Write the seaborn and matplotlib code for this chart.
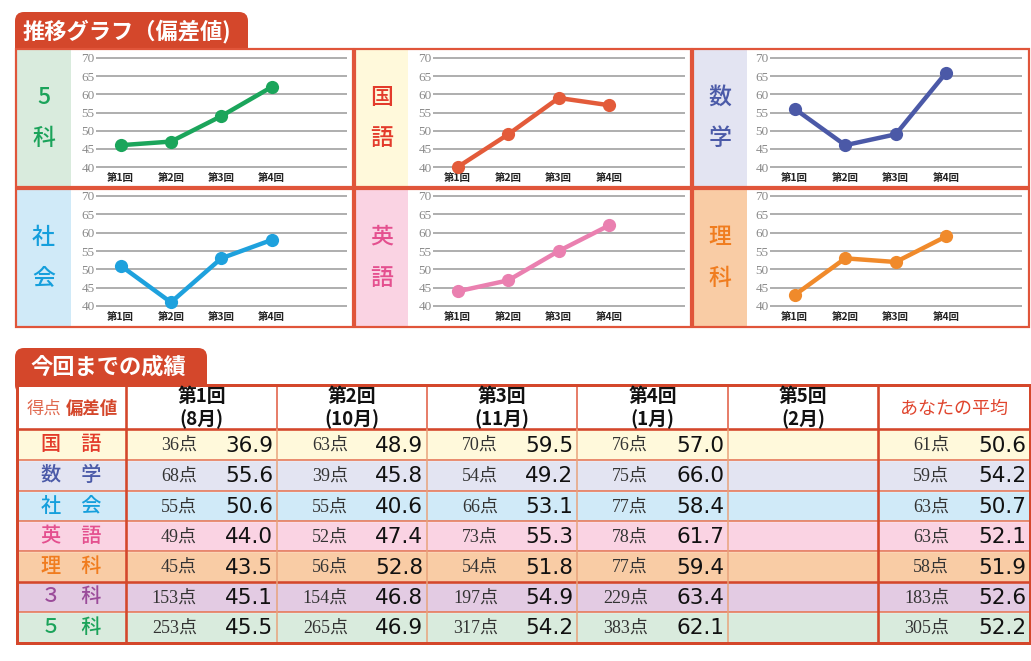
import numpy as np
import pandas as pd
import matplotlib
matplotlib.use('Agg')
import matplotlib.pyplot as plt
import seaborn as sns
from matplotlib.patches import Rectangle, FancyBboxPatch

sns.set_theme(style='white')
plt.rcParams['font.family'] = ['Noto Sans CJK JP', 'DejaVu Sans']

# ---- data ----
rounds = ['第1回', '第2回', '第3回', '第4回']

graph_subjects = ['5科', '国語', '数学', '社会', '英語', '理科']
g_5ka = [46, 47, 54, 62]
g_kokugo = [40, 49, 59, 57]
g_sugaku = [56, 46, 49, 66]
g_shakai = [51, 41, 53, 58]
g_eigo = [44, 47, 55, 62]
g_rika = [43, 53, 52, 59]
graph_values = [g_5ka, g_kokugo, g_sugaku, g_shakai, g_eigo, g_rika]

table_subjects = ['国　語', '数　学', '社　会', '英　語', '理　科', '３　科', '５　科']
col_heads = [('第1回', '(8月)'), ('第2回', '(10月)'), ('第3回', '(11月)'),
             ('第4回', '(1月)'), ('第5回', '(2月)')]
scores_r1 = [36, 68, 55, 49, 45, 153, 253]
dev_r1 = [36.9, 55.6, 50.6, 44.0, 43.5, 45.1, 45.5]
scores_r2 = [63, 39, 55, 52, 56, 154, 265]
dev_r2 = [48.9, 45.8, 40.6, 47.4, 52.8, 46.8, 46.9]
scores_r3 = [70, 54, 66, 73, 54, 197, 317]
dev_r3 = [59.5, 49.2, 53.1, 55.3, 51.8, 54.9, 54.2]
scores_r4 = [76, 75, 77, 78, 77, 229, 383]
dev_r4 = [57.0, 66.0, 58.4, 61.7, 59.4, 63.4, 62.1]
scores_avg = [61, 59, 63, 63, 58, 183, 305]
dev_avg = [50.6, 54.2, 50.7, 52.1, 51.9, 52.6, 52.2]

# ---- colours ----
subject_text = {'5科': '#1ba35a', '国語': '#e33b2b', '数学': '#4b5aa8',
                '社会': '#159fdc', '英語': '#e4508f', '理科': '#f07c1e',
                '3科': '#9b4c9a'}
subject_bg = {'5科': '#d9ebdd', '国語': '#fff9db', '数学': '#e3e4f2',
              '社会': '#d0eaf8', '英語': '#fad3e3', '理科': '#f9cca5',
              '3科': '#e3cbe3'}
line_col = {'5科': '#1ba55b', '国語': '#e35b3a', '数学': '#4b59a7',
            '社会': '#1ea1dd', '英語': '#ea80b0', '理科': '#f08a2b'}
row_keys = ['国語', '数学', '社会', '英語', '理科', '3科', '5科']
RED = '#d4472b'
BORDER = '#e0553a'
THIN = '#e8a27a'

W, H = 1031, 661
PX = 72 / 100  # one pixel in points

fig = plt.figure(figsize=(W / 100, H / 100), dpi=100)
bg = fig.add_axes([0, 0, 1, 1])
bg.set_xlim(0, W)
bg.set_ylim(H, 0)
bg.axis('off')


def box(x0, y0, x1, y1):
    return [x0 / W, 1 - y1 / H, (x1 - x0) / W, (y1 - y0) / H]


# ---- graph panel ----
bg.add_patch(FancyBboxPatch((15, 12), 233, 46, boxstyle='round,pad=0,rounding_size=9',
                            fc=RED, ec='none', zorder=1))
bg.text(23, 31, '推移グラフ（偏差値)', color='white', fontsize=16, weight='bold',
        va='center', ha='left', zorder=5)

cell_x = [(16, 353), (355, 691), (693, 1029)]
strip_r = [71, 408, 747]
grid_l = [96, 433, 770]
grid_r = [347, 685, 1022]
cell_y = [(49, 187), (189, 327)]
y70 = [58, 196]
y40 = [167, 306]

for i, subj in enumerate(graph_subjects):
    r, c = divmod(i, 3)
    x0, x1 = cell_x[c]
    ya, yb = cell_y[r]
    bg.add_patch(Rectangle((x0, ya), x1 - x0, yb - ya, fc='white', ec='none', zorder=2))
    bg.add_patch(Rectangle((x0, ya), strip_r[c] - x0, yb - ya, fc=subject_bg[subj],
                           ec='none', zorder=2))
    bg.add_patch(Rectangle((x0, ya), x1 - x0, yb - ya, fc='none', ec=BORDER,
                           lw=2.2 * PX, zorder=3))
    cx = (x0 + strip_r[c]) / 2
    cy = (ya + yb) / 2
    for k, ch in enumerate(subj):
        bg.text(cx, cy + (k - 0.5) * 41, ch, color=subject_text[subj], fontsize=16.5,
                weight='medium', ha='center', va='center', zorder=5)

    ppu = (y40[r] - y70[r]) / 30
    ax = fig.add_axes(box(grid_l[c], y70[r] - 0.5 * ppu, grid_r[c], y40[r] + 0.5 * ppu))
    ax.set_facecolor('none')
    df = pd.DataFrame({'round': np.arange(len(rounds)), 'value': graph_values[i]})
    sns.lineplot(data=df, x='round', y='value', ax=ax, color=line_col[subj], lw=3.2,
                 marker='o', markersize=9.5, markeredgewidth=0, clip_on=False, zorder=4)
    ax.set_xlim(-0.49, 4.5)
    ax.set_ylim(39.5, 70.5)
    ax.set_yticks(range(40, 71, 5))
    ax.set_yticklabels([str(v) for v in range(40, 71, 5)],
                       family=['Liberation Serif'], color='#8a8a8a', fontsize=9.5)
    ax.set_xticks(range(len(rounds)))
    ax.set_xticklabels(rounds, fontsize=7.5, weight='bold', color='#222222')
    ax.tick_params(axis='y', length=0, pad=1)
    ax.tick_params(axis='x', length=0, pad=3)
    ax.yaxis.grid(True, color='#a8a8a8', lw=1.3)
    ax.xaxis.grid(False)
    ax.set_axisbelow(True)
    for s in ax.spines.values():
        s.set_visible(False)
    ax.set_xlabel('')
    ax.set_ylabel('')

# ---- table ----
bg.add_patch(FancyBboxPatch((15, 348), 192, 46, boxstyle='round,pad=0,rounding_size=9',
                            fc=RED, ec='none', zorder=1))
bg.text(30, 367, '今回までの成績', color='white', fontsize=16, weight='bold',
        va='center', ha='left', zorder=5)

col_edges = [17, 126, 277, 427, 577, 728, 878, 1030]
head_top, head_bot = 385, 429
row_edges = [429, 460, 491, 521, 551, 582, 612, 643]

bg.add_patch(Rectangle((17, head_top), 1030 - 17, head_bot - head_top, fc='white',
                       ec='none', zorder=2))
centers = [(row_edges[k] + row_edges[k + 1]) / 2 for k in range(len(row_keys))]
heights = [row_edges[k + 1] - row_edges[k] for k in range(len(row_keys))]
bg.barh(centers, 1030 - 17, left=17, height=heights,
        color=[subject_bg[k] for k in row_keys], zorder=2)

# header texts
bg.text(27, 409, '得点', color='#e06a50', fontsize=12.5, ha='left', va='center', zorder=5)
bg.text(66, 409, '偏差値', color=RED, fontsize=12.5, weight='bold', ha='left',
        va='center', zorder=5)
for j, (a, b) in enumerate(col_heads):
    cx = (col_edges[j + 1] + col_edges[j + 2]) / 2
    bg.text(cx, 397, a, fontsize=13.5, weight='bold', color='#111111', ha='center',
            va='center', zorder=5)
    bg.text(cx, 419, b, fontsize=13.5, weight='bold', color='#111111', ha='center',
            va='center', zorder=5)
bg.text((col_edges[6] + col_edges[7]) / 2, 409, 'あなたの平均', color='#e0452e',
        fontsize=13, ha='center', va='center', zorder=5)

# body
score_cols = [scores_r1, scores_r2, scores_r3, scores_r4, None, scores_avg]
dev_cols = [dev_r1, dev_r2, dev_r3, dev_r4, None, dev_avg]
for k, key in enumerate(row_keys):
    cy = centers[k]
    bg.text((col_edges[0] + col_edges[1]) / 2, cy, table_subjects[k],
            color=subject_text[key], fontsize=14.5, weight='medium', ha='center',
            va='center', zorder=5)
    for j in range(6):
        if score_cols[j] is None:
            continue
        left = col_edges[j + 1]
        right = col_edges[j + 2]
        bg.text(left + 71, cy + 1, f'{score_cols[j][k]}点',
                family=['Liberation Serif', 'Noto Sans CJK JP'], fontsize=13,
                color='#333333', ha='right', va='center', zorder=5)
        bg.text(right - 4, cy + 1, f'{dev_cols[j][k]:.1f}', family=['DejaVu Sans'],
                fontsize=15.5, color='#111111', ha='right', va='center', zorder=5)

# grid lines of table
for y in row_edges[1:-1]:
    thick = y == 582
    bg.plot([17, 1030], [y, y], color=RED if thick else '#e26a48',
            lw=(2.6 if thick else 1.5) * PX, zorder=4)
bg.plot([17, 1030], [head_bot, head_bot], color=RED, lw=2.6 * PX, zorder=4)
for x in col_edges[1:-1]:
    if x in (126, 878):
        bg.plot([x, x], [head_top, 643], color=RED, lw=2.6 * PX, zorder=4)
    else:
        bg.plot([x, x], [head_top, head_bot], color=BORDER, lw=1.5 * PX, zorder=4)
        bg.plot([x, x], [head_bot, 643], color=THIN, lw=1.5 * PX, zorder=4)
bg.add_patch(Rectangle((17, head_top), 1030 - 17, 643 - head_top, fc='none', ec=RED,
                       lw=3 * PX, zorder=4))

fig.savefig('out.png', dpi=100, facecolor='white')
